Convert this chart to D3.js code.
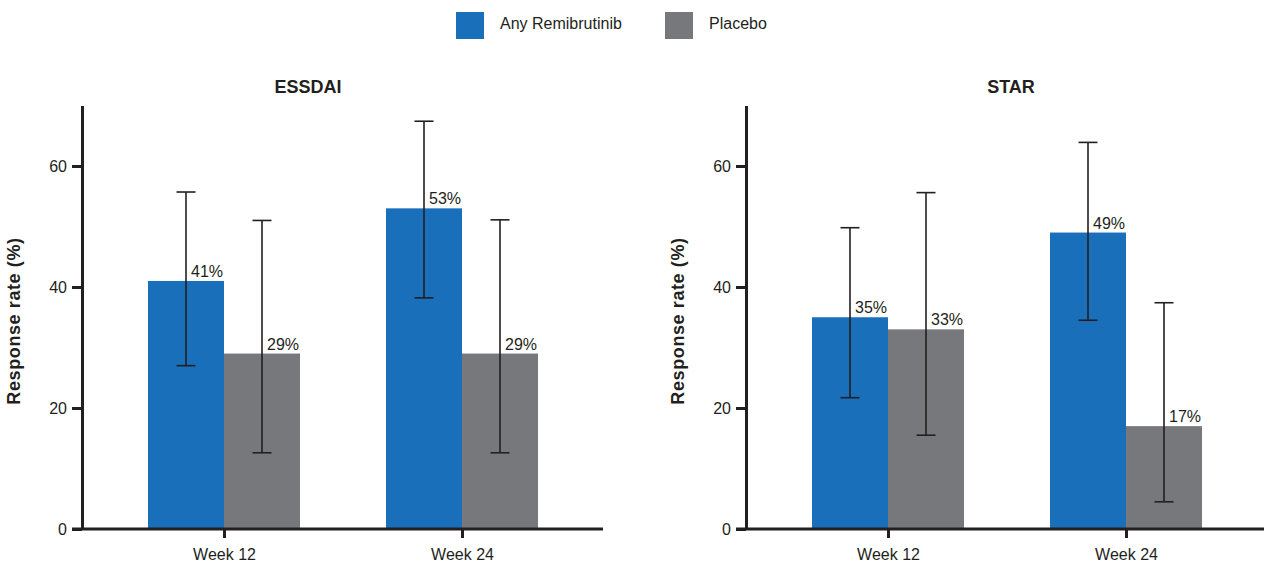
<!DOCTYPE html>
<html>
<head>
<meta charset="utf-8">
<script src="https://cdn.jsdelivr.net/npm/d3@7"></script>
<style>
  html, body { margin: 0; padding: 0; background: #fff; }
  svg { display: block; font-family: "Liberation Sans", Arial, sans-serif; }
</style>
</head>
<body>
<svg id="chart" width="1264" height="562"></svg>
<script>
// Response rates (%) with 95% confidence limits, by visit
const categories = ["Week 12", "Week 24"];
const seriesNames = ["Any Remibrutinib", "Placebo"];
const yTicks = [0, 20, 40, 60];

const essdaiRemibrutinib = [41, 53];
const essdaiRemibrutinibLow = [27.0, 38.2];
const essdaiRemibrutinibHigh = [55.7, 67.4];
const essdaiPlacebo = [29, 29];
const essdaiPlaceboLow = [12.6, 12.6];
const essdaiPlaceboHigh = [51.0, 51.1];

const starRemibrutinib = [35, 49];
const starRemibrutinibLow = [21.7, 34.5];
const starRemibrutinibHigh = [49.8, 63.9];
const starPlacebo = [33, 17];
const starPlaceboLow = [15.5, 4.5];
const starPlaceboHigh = [55.6, 37.4];

const colors = { "Any Remibrutinib": "#1a6fbb", "Placebo": "#77787c" };
const ink = "#231f20";

const svg = d3.select("#chart");

function buildRows(rem, remLo, remHi, pla, plaLo, plaHi) {
  const rows = [];
  categories.forEach((c, i) => {
    rows.push({ cat: c, series: seriesNames[0], value: rem[i], lo: remLo[i], hi: remHi[i] });
    rows.push({ cat: c, series: seriesNames[1], value: pla[i], lo: plaLo[i], hi: plaHi[i] });
  });
  return rows;
}

const panels = [
  { title: "ESSDAI", left: 82, titleX: 226,
    rows: buildRows(essdaiRemibrutinib, essdaiRemibrutinibLow, essdaiRemibrutinibHigh,
                    essdaiPlacebo, essdaiPlaceboLow, essdaiPlaceboHigh) },
  { title: "STAR", left: 746, titleX: 265,
    rows: buildRows(starRemibrutinib, starRemibrutinibLow, starRemibrutinibHigh,
                    starPlacebo, starPlaceboLow, starPlaceboHigh) }
];

const y = d3.scaleLinear().domain([0, 70]).range([529, 105.5]);
const x = d3.scalePoint().domain(categories).range([142, 380]);
const sub = d3.scaleBand().domain(seriesNames).range([-76, 76]).padding(0);
const capHalf = 9.5;

panels.forEach(p => {
  const g = svg.append("g").attr("transform", `translate(${p.left},0)`);

  // bars
  g.selectAll("rect.bar").data(p.rows).join("rect")
    .attr("class", "bar")
    .attr("x", d => x(d.cat) + sub(d.series))
    .attr("width", sub.bandwidth())
    .attr("y", d => y(d.value))
    .attr("height", d => y(0) - y(d.value))
    .attr("fill", d => colors[d.series]);

  // error bars
  const eb = g.selectAll("g.err").data(p.rows).join("g").attr("class", "err")
    .attr("stroke", ink).attr("stroke-width", 1.6);
  const cx = d => x(d.cat) + sub(d.series) + sub.bandwidth() / 2;
  eb.append("line").attr("x1", cx).attr("x2", cx)
    .attr("y1", d => y(d.lo)).attr("y2", d => y(d.hi));
  eb.append("line").attr("x1", d => cx(d) - capHalf).attr("x2", d => cx(d) + capHalf)
    .attr("y1", d => y(d.hi)).attr("y2", d => y(d.hi));
  eb.append("line").attr("x1", d => cx(d) - capHalf).attr("x2", d => cx(d) + capHalf)
    .attr("y1", d => y(d.lo)).attr("y2", d => y(d.lo));

  // value labels
  g.selectAll("text.val").data(p.rows).join("text")
    .attr("class", "val")
    .attr("x", d => cx(d) + 5)
    .attr("y", d => y(d.value) - 4)
    .attr("font-size", 16)
    .attr("fill", ink)
    .text(d => d.value + "%");

  // y axis
  const ya = g.append("g")
    .call(d3.axisLeft(y).tickValues(yTicks).tickSize(10).tickSizeOuter(0).tickPadding(5));
  ya.select(".domain").attr("stroke", ink).attr("stroke-width", 3);
  ya.selectAll(".tick line").attr("stroke", ink).attr("stroke-width", 3);
  ya.selectAll(".tick text").attr("font-size", 16).attr("fill", ink)
    .attr("font-family", "Liberation Sans, Arial, sans-serif");

  // x axis
  const xa = g.append("g").attr("transform", `translate(0,${y(0)})`)
    .call(d3.axisBottom(x).tickSize(9).tickPadding(11));
  xa.select(".domain").remove();
  xa.append("line").attr("x1", -10).attr("x2", 521).attr("y1", 0).attr("y2", 0)
    .attr("stroke", ink).attr("stroke-width", 3);
  xa.selectAll(".tick line").attr("stroke", ink).attr("stroke-width", 3);
  xa.selectAll(".tick text").attr("font-size", 16).attr("fill", ink)
    .attr("font-family", "Liberation Sans, Arial, sans-serif");

  // y axis title
  g.append("text")
    .attr("transform", `translate(-62,321) rotate(-90)`)
    .attr("text-anchor", "middle")
    .attr("font-size", 18).attr("font-weight", "bold")
    .attr("letter-spacing", 0.6)
    .attr("fill", ink)
    .text("Response rate (%)");

  // panel title
  g.append("text")
    .attr("x", p.titleX).attr("y", 93)
    .attr("text-anchor", "middle")
    .attr("font-size", 18).attr("font-weight", "bold")
    .attr("fill", ink)
    .text(p.title);
});

// legend
const legendPos = [456, 665];
const lg = svg.append("g");
seriesNames.forEach((s, i) => {
  lg.append("rect").attr("x", legendPos[i]).attr("y", 12).attr("width", 28).attr("height", 27)
    .attr("fill", colors[s]);
  lg.append("text").attr("x", legendPos[i] + 44).attr("y", 29)
    .attr("font-size", 16).attr("fill", ink).text(s);
});
</script>
</body>
</html>
